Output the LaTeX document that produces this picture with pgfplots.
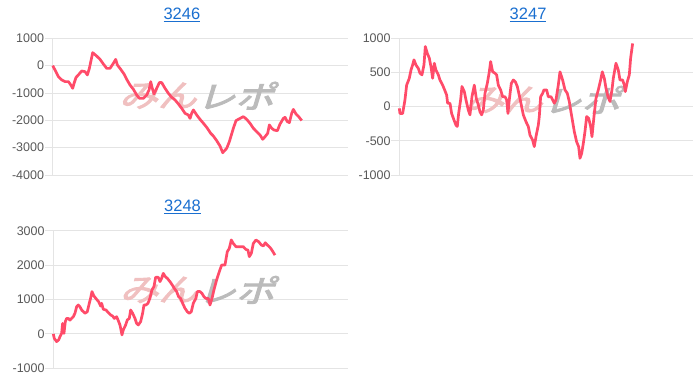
\documentclass[border=0pt]{standalone}
\usepackage{pgfplots}
\pgfplotsset{compat=1.18}
\usepackage{fontspec}
\setmainfont{Liberation Sans}
\newfontfamily\cjk[FakeBold=3]{Noto Sans CJK JP}
\definecolor{linered}{HTML}{FF4B69}
\definecolor{gridc}{HTML}{E4E4E4}
\definecolor{zeroc}{HTML}{B4B4B4}
\definecolor{tickc}{HTML}{595959}
\definecolor{titlec}{HTML}{1A6FD0}
\definecolor{wmpink}{HTML}{F0C0C0}
\definecolor{wmgray}{HTML}{BBBBBB}
\tikzset{wm/.style={font=\cjk\fontsize{31}{31}\selectfont, xslant=0.3, xscale=1.25, inner sep=0pt}}
\pgfplotsset{
  mystyle/.style={
    scale only axis,
    anchor=south west,
    axis lines=left,
    axis line style={-, draw=gridc, line width=0.8pt},
    xtick=\empty,
    ymajorgrids,
    major grid style={draw=gridc, line width=0.8pt},
    tick style={draw=gridc, line width=0.8pt},
    major tick length=8pt,
    tick align=outside,
    /pgf/number format/assume math mode=true,
    /pgf/number format/1000 sep={},
    yticklabel style={font=\fontsize{12.5}{12.5}\selectfont, text=tickc, inner xsep=0.5pt},
    extra y ticks={0},
    extra y tick labels={},
    extra y tick style={grid style={draw=zeroc, line width=0.8pt}, tick style={draw=gridc}},
    title style={font=\fontsize{16.5}{16.5}\selectfont, text=titlec, anchor=base, at={(axis description cs:0.438,1)}, yshift=13pt},
    clip=false,
  },
  redline/.style={draw=linered, line width=2.7pt, line join=round, no marks},
}
\begin{document}
\begin{tikzpicture}
\useasboundingbox (0,0) rectangle (700pt,382pt);
% Chart 3246
\begin{axis}[mystyle, at={(52.7pt,207pt)}, width=295pt, height=136.7pt,
  xmin=158, xmax=1043, ymin=-4000, ymax=1000, ytick={-4000,-3000,-2000,-1000,0,1000},
  title={\underline{3246}}]
\node[wm, text=wmpink, anchor=east] at (rel axis cs:0.5,0.58) {みん};
\node[wm, text=wmgray, anchor=west] at (rel axis cs:0.5,0.58) {レポ};
\addplot[redline] coordinates {(158,0)(165,-160)(175,-400)(185,-520)(195,-585)(205,-585)(212,-700)(218,-830)(222,-650)(228,-430)(235,-340)(245,-195)(255,-220)(262,-340)(268,-100)(278,475)(290,350)(300,230)(310,60)(320,-100)(330,-100)(340,85)(347,230)(352,25)(362,-135)(372,-305)(380,-500)(390,-710)(400,-865)(410,-1075)(418,-1195)(430,-1195)(440,-1075)(447,-890)(452,-585)(456,-795)(462,-1035)(470,-830)(478,-620)(485,-620)(495,-830)(505,-1010)(515,-1160)(525,-1255)(535,-1400)(545,-1560)(555,-1745)(565,-1805)(570,-1930)(575,-1745)(580,-1620)(590,-1805)(600,-1965)(612,-2135)(622,-2290)(632,-2475)(640,-2575)(650,-2745)(660,-2940)(668,-3185)(680,-3025)(688,-2780)(694,-2535)(700,-2290)(708,-2010)(720,-1930)(730,-1865)(740,-1965)(750,-2110)(760,-2290)(770,-2415)(780,-2535)(788,-2695)(795,-2600)(803,-2475)(808,-2170)(815,-2290)(822,-2355)(832,-2380)(840,-2135)(850,-1930)(855,-1890)(862,-2050)(868,-2085)(875,-1745)(880,-1600)(888,-1770)(896,-1865)(905,-2010)};
\end{axis}
% Chart 3247
\begin{axis}[mystyle, at={(399.3pt,207pt)}, width=294pt, height=136.7pt,
  xmin=148, xmax=1030, ymin=-1000, ymax=1000, ytick={-1000,-500,0,500,1000},
  title={\underline{3247}}]
\node[wm, text=wmpink, anchor=east] at (rel axis cs:0.5,0.55) {みん};
\node[wm, text=wmgray, anchor=west] at (rel axis cs:0.5,0.55) {レポ};
\addplot[redline] coordinates {(148,-25)(150,-100)(158,-100)(165,100)(170,315)(178,415)(183,535)(188,610)(192,685)(198,610)(205,560)(210,490)(216,465)(222,610)(226,880)(232,780)(238,710)(243,585)(248,415)(253,635)(258,535)(265,465)(270,390)(278,315)(284,245)(290,170)(293,50)(300,50)(305,-100)(312,-195)(318,-270)(322,-290)(326,-100)(332,100)(336,295)(343,220)(348,100)(355,-50)(360,-120)(366,145)(373,315)(379,120)(385,25)(390,-75)(395,-120)(400,-50)(405,195)(412,340)(418,510)(422,660)(428,510)(435,490)(440,465)(445,315)(452,245)(458,145)(465,145)(470,100)(474,-100)(478,100)(484,340)(490,390)(496,365)(502,295)(510,120)(515,0)(520,-120)(528,-220)(535,-290)(540,-415)(548,-490)(553,-585)(558,-440)(565,-270)(568,-145)(572,145)(578,195)(582,245)(590,245)(595,145)(603,145)(608,100)(613,50)(618,100)(625,315)(630,510)(638,390)(645,245)(652,195)(658,75)(662,-50)(668,-220)(673,-365)(680,-515)(686,-585)(690,-755)(695,-685)(700,-540)(705,-365)(710,-145)(716,-170)(722,-290)(726,-440)(732,-145)(738,120)(745,245)(752,390)(757,510)(763,415)(768,270)(774,145)(780,75)(786,245)(790,415)(798,635)(805,535)(810,390)(818,390)(823,315)(826,220)(832,365)(838,465)(842,710)(848,925)};
\end{axis}
% Chart 3248
\begin{axis}[mystyle, at={(53.3pt,13.7pt)}, width=295pt, height=137.6pt,
  xmin=160, xmax=1045, ymin=-1000, ymax=3000, ytick={-1000,0,1000,2000,3000},
  title={\underline{3248}}]
\node[wm, text=wmpink, anchor=east] at (rel axis cs:0.5,0.57) {みん};
\node[wm, text=wmgray, anchor=west] at (rel axis cs:0.5,0.57) {レポ};
\addplot[redline] coordinates {(160,0)(163,-130)(170,-225)(176,-175)(180,-80)(185,15)(188,305)(192,15)(196,355)(200,450)(205,450)(210,400)(215,450)(220,500)(225,600)(230,790)(235,840)(240,790)(245,695)(255,600)(262,645)(268,890)(272,1040)(276,1230)(282,1100)(290,1005)(296,935)(302,810)(305,890)(310,715)(318,695)(325,620)(332,550)(338,520)(343,450)(350,500)(355,385)(360,260)(366,-30)(370,115)(377,260)(382,405)(388,450)(392,695)(398,600)(405,450)(410,305)(415,260)(422,355)(428,600)(432,840)(438,840)(444,890)(450,1040)(456,1280)(462,1375)(467,1645)(475,1645)(480,1520)(485,1615)(490,1760)(496,1665)(502,1615)(510,1520)(517,1420)(523,1325)(530,1230)(536,1080)(542,1030)(548,890)(555,745)(562,645)(568,600)(574,645)(580,890)(588,1040)(592,1230)(600,1230)(606,1180)(612,1080)(618,1030)(625,1030)(630,840)(636,1030)(642,1280)(650,1570)(658,1810)(665,2000)(675,2000)(682,2390)(688,2485)(694,2730)(700,2630)(708,2535)(720,2535)(730,2535)(738,2455)(744,2435)(748,2245)(754,2340)(760,2630)(768,2730)(776,2680)(784,2585)(790,2555)(796,2650)(802,2585)(810,2515)(816,2435)(825,2290)};
\end{axis}
\end{tikzpicture}
\end{document}
